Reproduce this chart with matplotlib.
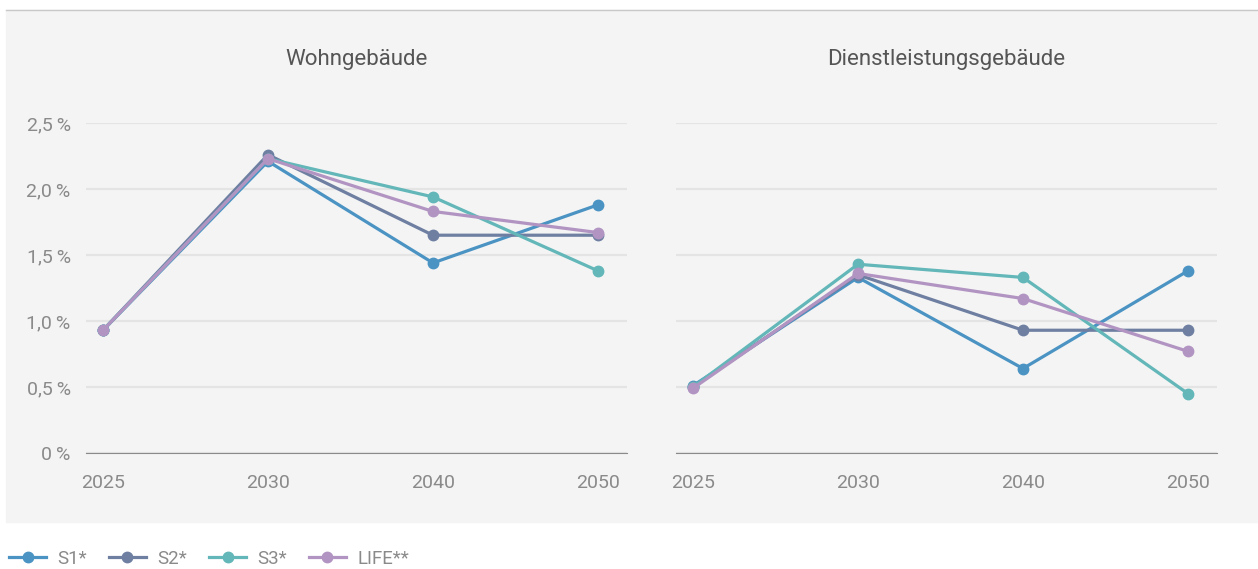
import matplotlib.pyplot as plt
from matplotlib.patches import Rectangle
from matplotlib.lines import Line2D

years = ['2025', '2030', '2040', '2050']
series = ['S1*', 'S2*', 'S3*', 'LIFE**']
colors = ['#4a93c3', '#6e7fa2', '#63b7b9', '#b294c2']

wohn_s1 = [0.93, 2.21, 1.44, 1.88]
wohn_s2 = [0.93, 2.26, 1.65, 1.65]
wohn_s3 = [0.93, 2.23, 1.94, 1.38]
wohn_life = [0.93, 2.23, 1.83, 1.67]

dienst_s1 = [0.51, 1.33, 0.64, 1.38]
dienst_s2 = [0.50, 1.35, 0.93, 0.93]
dienst_s3 = [0.50, 1.43, 1.33, 0.45]
dienst_life = [0.49, 1.36, 1.17, 0.77]

panels = [
    ('Wohngebäude', [wohn_s1, wohn_s2, wohn_s3, wohn_life]),
    ('Dienstleistungsgebäude', [dienst_s1, dienst_s2, dienst_s3, dienst_life]),
]

plt.rcParams['font.family'] = ['Roboto', 'DejaVu Sans']
txt = '#555555'
tick_col = '#8a8a8a'

fig = plt.figure(figsize=(12.58, 5.69), dpi=100)
fig.patches.append(Rectangle((6 / 1258, 1 - 522 / 569), 1252 / 1258, 512 / 569,
                             transform=fig.transFigure, color='#f4f4f4', zorder=-5))
fig.lines.append(Line2D([6 / 1258, 1], [1 - 9.5 / 569] * 2, transform=fig.transFigure,
                        color='#c8c8c8', lw=1, zorder=-4))

lefts = [86 / 1258, 676 / 1258]
for i, (left, (title, data)) in enumerate(zip(lefts, panels)):
    ax = fig.add_axes([left, 1 - 453 / 569, 541 / 1258, 330 / 569])
    ax.set_facecolor('none')
    x = list(range(len(years)))
    for vals, col, name in zip(data, colors, series):
        ax.plot(x, vals, color=col, lw=2.3, marker='o', ms=7.5, label=name, zorder=3)
    ax.set_xlim(-0.103, 3.176)
    ax.set_ylim(0, 2.5)
    ax.set_yticks([0, 0.5, 1.0, 1.5, 2.0, 2.5])
    if i == 0:
        ax.set_yticklabels(['0\u2009%', '0,5\u2009%', '1,0\u2009%', '1,5\u2009%', '2,0\u2009%', '2,5\u2009%'])
    else:
        ax.set_yticklabels([])
    ax.set_xticks(x)
    ax.set_xticklabels(years)
    ax.tick_params(length=0, colors=tick_col, labelsize=14)
    ax.tick_params(axis='y', pad=11)
    ax.tick_params(axis='x', pad=15)
    ax.grid(axis='y', color='#e4e4e4', lw=1.6)
    ax.set_axisbelow(True)
    for s in ['top', 'right', 'left']:
        ax.spines[s].set_visible(False)
    ax.spines['bottom'].set_color('#8a8a8a')
    ax.spines['bottom'].set_zorder(2)
    ax.set_title(title, color=txt, fontsize=16, pad=42)

handles, labels = ax.get_legend_handles_labels()
fig.legend(handles, labels, loc='lower left', bbox_to_anchor=(5 / 1258, -0.004), ncol=4,
           frameon=False, fontsize=13.5, labelcolor=tick_col, handlelength=2.0,
           columnspacing=1.15, handletextpad=0.6, borderpad=0.2, borderaxespad=0)

fig.savefig('out.png', dpi=100)
